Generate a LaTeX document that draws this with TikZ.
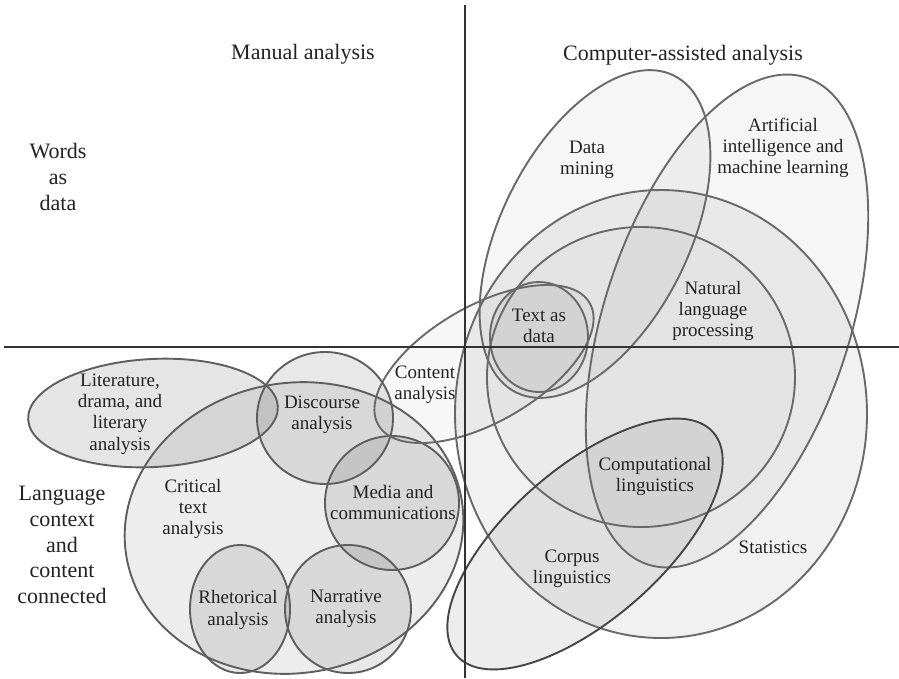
\documentclass[tikz,border=0pt]{standalone}
\usepackage{fontspec}
\setmainfont{Liberation Serif}
\begin{document}
\definecolor{rimgray}{HTML}{696969}
\definecolor{rimleft}{HTML}{5E5E5E}
\definecolor{rimdark}{HTML}{454545}
\definecolor{axisgray}{HTML}{333333}
\definecolor{inkgray}{HTML}{222222}
\begin{tikzpicture}[x=1pt,y=-1pt,
  head/.style={text=inkgray, align=center, inner sep=0pt,
    font=\fontsize{22}{25.8}\selectfont},
  lbl/.style={text=inkgray, align=center, inner sep=0pt,
    font=\fontsize{19}{21.3}\selectfont},
  axisline/.style={draw=axisgray, line width=2.6pt}]
\useasboundingbox (0,0) rectangle (899,678);

% translucent fills: centre x / centre y / x radius / y radius / tilt / opacity
\foreach \cx/\cy/\ra/\rb/\tilt/\op in {
  153/413/125/54/3/0.10,      % literature
  294/528/170/145/10/0.07,    % critical text analysis
  325/418/68/66/0/0.09,       % discourse
  392/503/67/67/0/0.09,       % media
  240/609/50/64/0/0.09,       % rhetorical
  348/609/63/64/0/0.09,       % narrative
  484/364/122/58/30/0.03,     % content analysis
  661/414/206/224/0/0.055,    % statistics
  641/377/154/150/0/0.022,    % natural language processing
  595/234/177/94/63.5/0.035,  % data mining
  727/321/256/123/72/0.035,   % artificial intelligence
  539/337/49/55/0/0.045,      % text as data
  585/544/170/76/41/0.07}     % corpus linguistics
  \fill[black, fill opacity=\op, rotate around={\tilt:(\cx,\cy)}]
    (\cx,\cy) ellipse [x radius=\ra, y radius=\rb];

% outlines
\foreach \cx/\cy/\ra/\rb/\tilt/\col in {
  153/413/125/54/3/rimleft,
  294/528/170/145/10/rimleft,
  325/418/68/66/0/rimleft,
  392/503/67/67/0/rimleft,
  240/609/50/64/0/rimleft,
  348/609/63/64/0/rimleft,
  484/364/122/58/30/rimgray,
  661/414/206/224/0/rimgray,
  641/377/154/150/0/rimgray,
  595/234/177/94/63.5/rimgray,
  727/321/256/123/72/rimgray,
  539/337/49/55/0/rimgray,
  585/544/170/76/41/rimdark}
  \draw[draw=\col, line width=1.9pt, rotate around={\tilt:(\cx,\cy)}]
    (\cx,\cy) ellipse [x radius=\ra, y radius=\rb];

% quadrant axes
\coordinate (vtop) at (465,5);
\coordinate (vbot) at (465,678);
\coordinate (hleft) at (4,347);
\coordinate (hright) at (899,347);
\draw[axisline] (vtop) -- (vbot);
\draw[axisline] (hleft) -- (hright);

% quadrant headings
\node[head] (manual) at (303,54.5) {Manual analysis};
\node[head] (computer) at (683,55) {Computer-assisted analysis};
\node[head] (words) at (58,177) {Words\\as\\data};
\node[head] (context) at (62,545) {Language\\context\\and\\content\\connected};

% region labels
\node[lbl] (lit) at (120,414) {Literature,\\drama, and\\literary\\analysis};
\node[lbl] (disc) at (322,415) {Discourse\\analysis};
\node[lbl] (cont) at (425,384.5) {Content\\analysis};
\node[lbl] (crit) at (193,509) {Critical\\text\\analysis};
\node[lbl] (media) at (393,502.5) {Media and\\communications};
\node[lbl] (rhet) at (238,610) {Rhetorical\\analysis};
\node[lbl] (narr) at (346,608.5) {Narrative\\analysis};
\node[lbl] (mining) at (587,160) {Data\\mining};
\node[lbl] (ai) at (783,148) {Artificial\\intelligence and\\machine learning};
\node[lbl] (tad) at (539,326) {Text as\\data};
\node[lbl] (nlp) at (713,311) {Natural\\language\\processing};
\node[lbl] (comp) at (655,476.5) {Computational\\linguistics};
\node[lbl] (corpus) at (572,568.5) {Corpus\\linguistics};
\node[lbl] (stats) at (773,547) {Statistics};
\end{tikzpicture}
\end{document}
